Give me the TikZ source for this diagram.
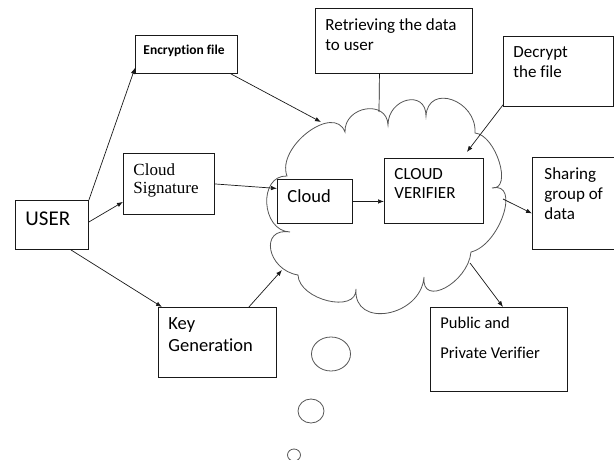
\documentclass[tikz,border=0pt]{standalone}
\usepackage{fontspec}
\setmainfont{Carlito}[Ligatures=NoCommon]
\newfontfamily\serifface{Liberation Serif}
\definecolor{boxline}{RGB}{25,25,25}
\definecolor{cloudline}{RGB}{85,85,85}
\usetikzlibrary{arrows.meta}
\newcommand{\boxtxt}[3]{\parbox[t][#2][t]{#1}{\raggedright #3}}

\begin{document}
\begin{tikzpicture}[x=1pt, y=-1pt,
  every node/.style={font=\fontsize{17}{20}\selectfont},
  box/.style={draw=boxline, line width=0.9pt, fill=white, anchor=north west, inner sep=10pt},
  link/.style={-{Latex[length=6pt,width=4.5pt]}, line width=0.7pt, boxline}]
\clip (0,0) rectangle (614,460);
% Cloud outline
\draw[cloudline, line width=0.8pt]
  (287,176) .. controls (276,147) and (334,103) .. (345,132)
  .. controls (344,106) and (387,99) .. (388,125)
  .. controls (388,98) and (426,89) .. (426,116)
  .. controls (428,83) and (477,100) .. (475,133)
  .. controls (496,135) and (513,190) .. (492,188)
  .. controls (521,181) and (500,245) .. (471,252)
  .. controls (468,283) and (421,308) .. (424,277)
  .. controls (421,317) and (353,329) .. (356,289)
  .. controls (357,314) and (299,300) .. (298,275)
  .. controls (267,270) and (259,227) .. (290,232)
  .. controls (261,231) and (258,175) .. cycle;
% Thought bubbles
\draw[cloudline, line width=0.8pt] (331,354) ellipse [x radius=19.5pt, y radius=17pt];
\draw[cloudline, line width=0.8pt] (311,411) ellipse [x radius=13pt, y radius=12pt];
\draw[cloudline, line width=0.8pt] (294,455) ellipse [x radius=6.5pt, y radius=6pt];
% Points on the cloud
\coordinate (ein) at (321,122);
\coordinate (rin) at (379,112);
\coordinate (kgin) at (282,270);
\coordinate (sout) at (503,199);
\coordinate (pout) at (470,263);
% Boxes
\node[box, inner ysep=11pt, font=\fontsize{21}{24}\selectfont] (user) at (15,200) {\boxtxt{53pt}{27pt}{USER}};
\node[box, inner xsep=8pt, font=\bfseries\fontsize{13.5}{16}\selectfont] (enc) at (135,35) {\boxtxt{86pt}{18pt}{Encryption file}};
\node[box] (retr) at (315,8) {\boxtxt{137pt}{45pt}{Retrieving the data\\to user}};
\node[box] (dec) at (503,36) {\boxtxt{90pt}{50pt}{Decrypt\\the file}};
\node[box, font=\serifface\fontsize{17}{18.5}\selectfont] (sign) at (123,153) {\boxtxt{71pt}{41pt}{Cloud\\Signature}};
\node[box, font=\fontsize{18.5}{22}\selectfont] (cloudbox) at (277,179) {\boxtxt{55pt}{24pt}{Cloud}};
\node[box, font=\fontsize{17}{19}\selectfont] (verifier) at (384,158) {\boxtxt{79pt}{45pt}{CLOUD\\VERIFIER}};
\node[box, inner xsep=12pt] (share) at (532,157) {\boxtxt{80pt}{72pt}{Sharing\\group of\\data}};
\node[box, font=\fontsize{18.5}{22}\selectfont] (keygen) at (158,307) {\boxtxt{98pt}{50pt}{Key\\Generation}};
\node[box, font=\fontsize{16.5}{30}\selectfont] (pubver) at (430,307) {\boxtxt{117pt}{64pt}{Public and\\Private Verifier}};
% Arrows
\draw[link] (user.north east) -- ([yshift=6pt]enc.south west);
\draw[link] ([yshift=3pt]user.east) -- ([yshift=13pt]sign.south west);
\draw[link] ([xshift=-18pt]user.south east) -- ([xshift=4pt]keygen.north west);
\draw[link] ([xshift=-28pt]keygen.north east) -- (kgin);
\draw[link] ([xshift=-7pt]enc.south east) -- (ein);
\draw[link] (sign.east) -- ([yshift=13pt]cloudbox.west);
\draw[link] (cloudbox.east) -- (cloudbox.east -| verifier.west);
\draw[link] ([yshift=2pt]dec.south west) -- ([xshift=-17pt,yshift=6pt]verifier.north east);
\draw[link] (sout) -- ([yshift=-10pt]share.west);
\draw[link] (pout) -- ([xshift=73pt]pubver.north west);
\draw[boxline, line width=0.7pt] ([xshift=-14.5pt]retr.south) -- (rin);
\end{tikzpicture}
\end{document}
